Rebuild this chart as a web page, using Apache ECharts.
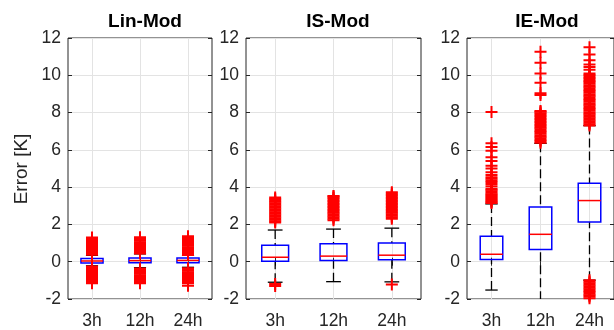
<!DOCTYPE html>
<html><head><meta charset="utf-8">
<script src="https://cdn.jsdelivr.net/npm/echarts@6/dist/echarts.min.js"></script>
<style>html,body{margin:0;padding:0;background:#fff}#c{width:614px;height:330px}</style>
</head><body><div id="c"></div><script>
// ---------------- data ----------------
const categories = ['3h', '12h', '24h'];
const panelTitles = ['Lin-Mod', 'IS-Mod', 'IE-Mod'];
const yLabel = 'Error [K]';
const yMin = -2, yMax = 12, yStep = 2;

// box statistics per category: [q1, median, q3, lower whisker, upper whisker]
const linModBoxes = [
  [-0.07, 0.04, 0.17, -0.22, 0.34],
  [-0.06, 0.06, 0.20, -0.32, 0.42],
  [-0.05, 0.07, 0.20, -0.30, 0.34]
];
const isModBoxes = [
  [0.03, 0.24, 0.88, -1.10, 1.70],
  [0.07, 0.30, 0.97, -1.07, 1.75],
  [0.10, 0.35, 1.01, -1.08, 1.80]
];
const ieModBoxes = [
  [0.12, 0.40, 1.36, -1.52, 3.10],
  [0.65, 1.47, 2.93, -2.77, 6.35],
  [2.13, 3.28, 4.21, -0.99, 7.30]
];

// outliers per category
const linModOutliers = [
  [0.38, 0.45, 0.51, 0.58, 0.66, 0.72, 0.79, 0.86, 0.93, 0.99, 1.06, 1.13, 1.19, 1.26, 1.30,
   -0.25, -0.31, -0.38, -0.45, -0.52, -0.59, -0.66, -0.73, -0.80, -0.87, -0.94, -1.00, -1.07, -1.12, -1.16],
  [0.44, 0.50, 0.57, 0.64, 0.70, 0.77, 0.84, 0.91, 0.98, 1.05, 1.12, 1.18, 1.25, 1.31,
   -0.37, -0.44, -0.51, -0.58, -0.65, -0.72, -0.79, -0.86, -0.93, -1.00, -1.06, -1.12, -1.16],
  [0.36, 0.43, 0.50, 0.57, 0.64, 0.71, 0.78, 0.85, 0.92, 0.99, 1.06, 1.13, 1.20, 1.27, 1.33, 1.37,
   -0.35, -0.42, -0.49, -0.56, -0.63, -0.70, -0.77, -0.84, -0.91, -0.98, -1.05, -1.11, -1.16, -1.29]
];
const isModOutliers = [
  [2.10, 2.17, 2.25, 2.33, 2.41, 2.49, 2.57, 2.65, 2.73, 2.81, 2.89, 2.97, 3.05, 3.13, 3.21, 3.29, 3.37, 3.45,
   -1.20, -1.30],
  [2.22, 2.30, 2.38, 2.46, 2.54, 2.62, 2.70, 2.78, 2.86, 2.94, 3.02, 3.10, 3.18, 3.26, 3.34, 3.42, 3.50, 3.53],
  [2.30, 2.38, 2.46, 2.54, 2.62, 2.70, 2.78, 2.86, 2.94, 3.02, 3.10, 3.18, 3.26, 3.34, 3.42, 3.50, 3.58, 3.66, 3.72,
   -1.22]
];
const ieModOutliers = [
  [3.15, 3.20, 3.26, 3.32, 3.38, 3.44, 3.50, 3.56, 3.62, 3.70, 3.78, 3.86, 3.92, 4.05, 4.17, 4.28, 4.35,
   4.45, 4.53, 4.65, 4.80, 5.00, 5.15, 5.40, 5.60, 5.95, 6.15, 6.35, 8.03],
  [6.38, 6.46, 6.53, 6.62, 6.70, 6.77, 6.86, 6.94, 7.01, 7.10, 7.18, 7.25, 7.34, 7.42, 7.49, 7.58, 7.66,
   7.73, 7.82, 7.90, 7.97, 8.05, 8.09, 8.94, 9.03, 9.60, 10.10, 10.67, 11.26],
  [7.30, 7.38, 7.46, 7.53, 7.62, 7.70, 7.77, 7.86, 7.94, 8.01, 8.10, 8.18, 8.25, 8.34, 8.42, 8.49, 8.58,
   8.66, 8.73, 8.82, 8.90, 8.97, 9.06, 9.14, 9.21, 9.30, 9.38, 9.45, 9.54, 9.62, 9.69, 9.78, 9.86, 9.93,
   10.02, 10.10, 10.30, 10.45, 10.58, 10.80, 11.11, 11.50,
   -1.00, -1.08, -1.15, -1.24, -1.32, -1.39, -1.48, -1.56, -1.63, -1.72, -1.80, -1.87, -1.96, -2.04, -2.10]
];

const panelBoxes = [linModBoxes, isModBoxes, ieModBoxes];
const panelOutliers = [linModOutliers, isModOutliers, ieModOutliers];

// ---------------- layout / style ----------------
const FONT = "'Liberation Sans', Arial, Helvetica, sans-serif";
const AX = '#262626';
const GRIDC = '#e3e3e3';
const gridsPos = [
  { left: 68, width: 144 },
  { left: 246, width: 175 },
  { left: 467, width: 157.5 }
];
const titleCenters = [140, 333, 542];
const TOP = 38, HEIGHT = 262.5;
const plusPath = 'path://M5,0H7V5H12V7H7V12H5V7H0V5H5Z';

function renderBox(params, api) {
  const x = api.value(0);
  const pQ1 = api.coord([x, api.value(1)]);
  const pMd = api.coord([x, api.value(2)]);
  const pQ3 = api.coord([x, api.value(3)]);
  const pLo = api.coord([x, api.value(4)]);
  const pHi = api.coord([x, api.value(5)]);
  const band = api.size([1, 0])[0];
  const bw = band * 0.46;
  const cw = bw * 0.55;
  const cx = pQ1[0];
  const dashed = { stroke: '#000', lineWidth: 1.3, lineDash: [9, 4], fill: null };
  const solid = { stroke: '#000', lineWidth: 1.3, fill: null };
  return {
    type: 'group',
    children: [
      { type: 'line', shape: { x1: cx, y1: pHi[1], x2: cx, y2: pQ3[1] }, style: dashed },
      { type: 'line', shape: { x1: cx, y1: pLo[1], x2: cx, y2: pQ1[1] }, style: dashed },
      { type: 'line', shape: { x1: cx - cw / 2, y1: pHi[1], x2: cx + cw / 2, y2: pHi[1] }, style: solid },
      { type: 'line', shape: { x1: cx - cw / 2, y1: pLo[1], x2: cx + cw / 2, y2: pLo[1] }, style: solid },
      { type: 'rect', shape: { x: cx - bw / 2, y: pQ3[1], width: bw, height: pQ1[1] - pQ3[1] },
        style: { fill: 'none', stroke: '#0000ff', lineWidth: 1.5 } },
      { type: 'line', shape: { x1: cx - bw / 2, y1: pMd[1], x2: cx + bw / 2, y2: pMd[1] },
        style: { stroke: '#ff0000', lineWidth: 1.5 } }
    ]
  };
}

const grid = gridsPos.map(g => ({
  left: g.left, width: g.width, top: TOP, height: HEIGHT,
  show: true, borderColor: AX, borderWidth: 1, backgroundColor: 'transparent', containLabel: false
}));

const xAxis = [], yAxis = [];
for (let p = 0; p < 3; p++) {
  xAxis.push({
    gridIndex: p, type: 'category', data: categories, boundaryGap: true, position: 'bottom',
    axisLine: { show: false },
    axisTick: { show: true, inside: true, alignWithLabel: true, length: 4, lineStyle: { color: AX } },
    axisLabel: { color: AX, fontSize: 17.5, fontFamily: FONT, margin: 13, interval: 0 },
    splitLine: { show: true, alignWithLabel: true, interval: 0, lineStyle: { color: GRIDC, width: 1 } }
  });
  yAxis.push({
    gridIndex: p, type: 'value', min: yMin, max: yMax, interval: yStep, position: 'left',
    axisLine: { show: false },
    axisTick: { show: true, inside: true, length: 4, lineStyle: { color: AX } },
    axisLabel: { color: AX, fontSize: 17.5, fontFamily: FONT, margin: 7 },
    splitLine: { show: true, lineStyle: { color: GRIDC, width: 1 } }
  });
}
for (let p = 0; p < 3; p++) {
  xAxis.push({
    gridIndex: p, type: 'category', data: categories, boundaryGap: true, position: 'top',
    axisLine: { show: false },
    axisTick: { show: true, inside: true, alignWithLabel: true, length: 4, lineStyle: { color: AX } },
    axisLabel: { show: false }, splitLine: { show: false }
  });
  yAxis.push({
    gridIndex: p, type: 'value', min: yMin, max: yMax, interval: yStep, position: 'right',
    axisLine: { show: false },
    axisTick: { show: true, inside: true, length: 4, lineStyle: { color: AX } },
    axisLabel: { show: false }, splitLine: { show: false }
  });
}

const series = [];
for (let p = 0; p < 3; p++) {
  series.push({
    type: 'custom', xAxisIndex: p, yAxisIndex: p, clip: true, z: 3,
    renderItem: renderBox,
    encode: { x: 0, y: [1, 2, 3, 4, 5] },
    data: panelBoxes[p].map((b, i) => [categories[i]].concat(b))
  });
  const pts = [];
  panelOutliers[p].forEach((arr, i) => arr.forEach(v => pts.push([categories[i], v])));
  series.push({
    type: 'scatter', xAxisIndex: p, yAxisIndex: p, clip: true, z: 4,
    symbol: plusPath, symbolSize: 12,
    itemStyle: { color: '#ff0000', opacity: 1 },
    data: pts
  });
}

const option = {
  animation: false,
  backgroundColor: '#fff',
  title: panelTitles.map((t, i) => ({
    text: t, left: titleCenters[i], top: 7, textAlign: 'center',
    textStyle: { fontSize: 19, fontWeight: 'bold', color: '#000', fontFamily: FONT }
  })),
  grid, xAxis, yAxis, series,
  graphic: [{
    type: 'text', x: 22, y: 169, rotation: Math.PI / 2,
    style: { text: yLabel, fontSize: 19, fontFamily: FONT, fill: AX, align: 'center', verticalAlign: 'middle' }
  }]
};

const chart = echarts.init(document.getElementById('c'), null, { renderer: 'canvas' });
chart.setOption(option);
</script></body></html>
